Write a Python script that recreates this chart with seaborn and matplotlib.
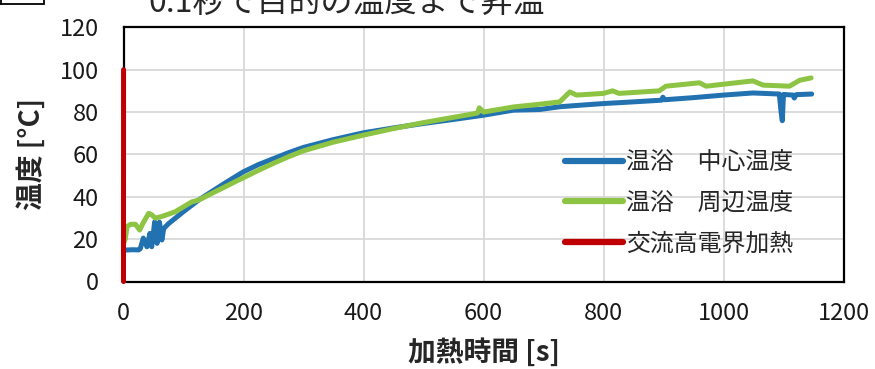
import matplotlib
matplotlib.use("Agg")
import matplotlib.pyplot as plt
import seaborn as sns
import pandas as pd
from matplotlib.lines import Line2D

# ---- data ----
t_center = [0, 8, 16, 25, 28, 33, 39, 44, 47, 52, 56, 60, 64, 67, 75, 86, 100, 125, 150, 170, 186,
            200, 225, 250, 275, 300, 350, 400, 450, 500, 550, 600, 650, 694, 727, 760, 800, 850, 897,
            899, 902, 950, 1000, 1049, 1093, 1096, 1098, 1100, 1116, 1118, 1121, 1147]
temp_center = [14.8, 14.9, 15.0, 14.9, 15.5, 20.5, 16.4, 22.7, 16.4, 28.2, 18.0, 28.0, 19.6, 25.0,
               27.3, 29.8, 33.0, 38.4, 43.0, 46.6, 49.4, 51.8, 55.2, 58.0, 60.8, 63.3, 67.0, 70.2,
               72.5, 74.6, 76.5, 78.5, 80.9, 81.2, 82.5, 83.2, 84.0, 84.8, 85.6, 87.0, 85.8, 86.8,
               88.0, 89.0, 88.5, 80.0, 75.9, 88.3, 88.0, 86.6, 88.2, 88.5]

t_edge = [0, 3, 6, 12, 20, 27, 33, 42, 47, 53, 64, 86, 114, 125, 150, 170, 186, 200, 225, 250, 275,
          300, 350, 400, 450, 500, 550, 590, 593, 600, 650, 694, 727, 744, 755, 800, 815, 826, 893,
          904, 960, 971, 1049, 1066, 1110, 1127, 1146]
temp_edge = [18.0, 20.0, 26.0, 27.0, 27.0, 24.3, 27.8, 32.2, 31.5, 29.9, 30.7, 32.9, 37.6, 38.4,
             42.0, 44.8, 47.1, 49.0, 52.5, 55.8, 58.9, 61.7, 65.8, 69.1, 72.2, 75.0, 77.5, 79.5,
             82.0, 80.0, 82.4, 83.7, 84.8, 89.5, 88.0, 88.8, 90.0, 88.8, 90.0, 92.2, 93.8, 92.2,
             94.7, 92.7, 92.2, 95.0, 96.1]

t_field = [0, 0.05, 0.1]
temp_field = [0, 50, 100]

series_names = ["温浴　中心温度", "温浴　周辺温度", "交流高電界加熱"]
colors = ["#2271B1", "#8DC443", "#C00000"]
x_ticks = [0, 200, 400, 600, 800, 1000, 1200]
y_ticks = [0, 20, 40, 60, 80, 100, 120]

df = pd.concat([
    pd.DataFrame({"t": t_center, "T": temp_center, "s": series_names[0]}),
    pd.DataFrame({"t": t_edge, "T": temp_edge, "s": series_names[1]}),
    pd.DataFrame({"t": t_field, "T": temp_field, "s": series_names[2]}),
], ignore_index=True)

sns.set_theme(style="white")
plt.rcParams["font.family"] = ["Noto Sans CJK JP", "DejaVu Sans"]

fig = plt.figure(figsize=(8.75, 3.69), dpi=100)
ax = fig.add_axes([123.5 / 875, 1 - 281.5 / 369, 720 / 875, 254.2 / 369])

sns.lineplot(data=df, x="t", y="T", hue="s", hue_order=series_names,
             palette=dict(zip(series_names, colors)), estimator=None, sort=False,
             linewidth=3.6, ax=ax, legend=False, solid_capstyle="round",
             solid_joinstyle="round", zorder=3)
for ln in ax.get_lines():
    ln.set_clip_on(False)

ax.set_xlim(0, 1200)
ax.set_ylim(0, 120)
ax.set_xticks(x_ticks)
ax.set_yticks(y_ticks)
ax.set_xticklabels([str(v) for v in x_ticks])
ax.set_yticklabels([str(v) for v in y_ticks])
ax.tick_params(axis="both", length=0, labelsize=17, colors="#1a1a1a")
ax.tick_params(axis="y", pad=18)
ax.tick_params(axis="x", pad=15)
ax.grid(True, color="#D9D9D9", linewidth=1.3)
ax.set_axisbelow(True)
for sp in ax.spines.values():
    sp.set_visible(True)
    sp.set_color("black")
    sp.set_linewidth(1.6)
    sp.set_zorder(2.5)

ax.set_xlabel("加熱時間 [s]", fontsize=20, fontweight="bold", labelpad=9)
ax.set_ylabel("温度 [°C]", fontsize=20, fontweight="bold", labelpad=10)

handles = [Line2D([0], [0], color=c, lw=4.5, solid_capstyle="round") for c in colors]
ax.legend(handles, series_names, loc="upper left", bbox_to_anchor=(0.597, 0.56),
          frameon=False, fontsize=17.2, handlelength=2.4, handletextpad=0.15,
          labelspacing=0.74, borderpad=0)

fig.text(148 / 875, 1 - 12 / 369, "0.1秒で目的の温度まで昇温", fontsize=23,
         color="#262626", ha="left", va="baseline")
fig.add_artist(Line2D([0, 44 / 875], [1 - 4 / 369, 1 - 4 / 369], color="black", lw=1.3,
                      transform=fig.transFigure))
fig.add_artist(Line2D([44 / 875, 44 / 875], [1 - 4 / 369, 1.0], color="black", lw=1.3,
                      transform=fig.transFigure))
fig.add_artist(Line2D([0.5 / 875, 0.5 / 875], [1 - 4 / 369, 1.0], color="black", lw=1.3,
                      transform=fig.transFigure))

fig.savefig("out.png", dpi=100)
